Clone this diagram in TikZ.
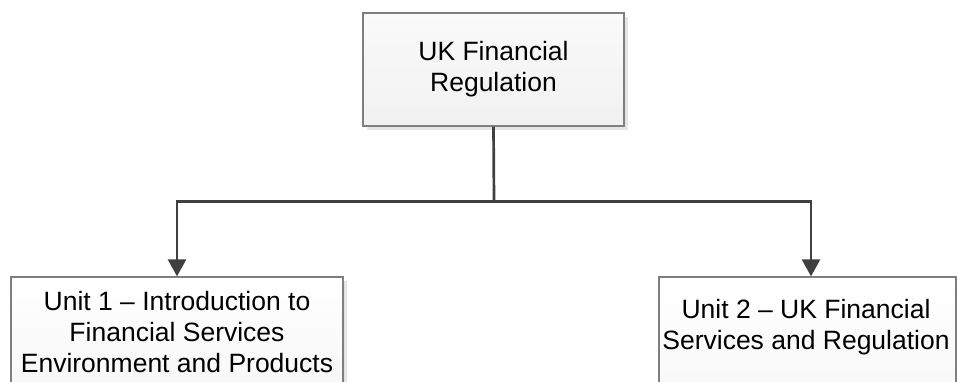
\documentclass[tikz,border=0pt]{standalone}
\usepackage{fontspec}
\setmainfont{Liberation Sans}
\usetikzlibrary{arrows.meta,shadows}
\definecolor{conncol}{HTML}{404040}
\definecolor{bordercol}{HTML}{7F7F7F}
\definecolor{shadowcol}{HTML}{E4E4E4}
\tikzset{
  box/.style={draw=bordercol, line width=1.3pt, rectangle, align=center,
    font=\fontsize{26.5}{31}\selectfont, inner sep=0pt,
    drop shadow={shadow xshift=4pt, shadow yshift=-4pt, fill=shadowcol, opacity=1}},
  conn/.style={draw=conncol, line width=2.7pt},
  tip/.style={-{Triangle[width=18pt,length=17pt]}}
}
\begin{document}
\begin{tikzpicture}[x=1pt,y=-1pt]
\useasboundingbox (0,0) rectangle (957,382);
\clip (0,0) rectangle (957,382);
\fill[white] (0,0) rectangle (957,382);
% top box
\node[box, top color=gray!4, bottom color=gray!11, minimum width=261pt, minimum height=113pt] (top) at (493.5,69.5) {UK Financial\\Regulation};
% left box
\node[box, top color=white, bottom color=gray!6, minimum width=332pt, minimum height=110pt] (u1) at (177,332) {Unit 1 -- Introduction to\\Financial Services\\Environment and Products};
% right box
\node[box, top color=white, bottom color=gray!6, minimum width=297pt, minimum height=130pt] (u2) at (807.5,342) {};
\node[font=\fontsize{26.5}{31}\selectfont, align=center, inner sep=0pt] (u2t) at (806,327) {Unit 2 -- UK Financial\\Services and Regulation};
% connectors
\coordinate (split) at (494,201.5);
\draw[conn] (top.south) -- (split);
\draw[conn, tip] (split) -| (u1.north);
\draw[conn, tip] (split) -| ([xshift=3.5pt]u2.north);
\end{tikzpicture}
\end{document}
